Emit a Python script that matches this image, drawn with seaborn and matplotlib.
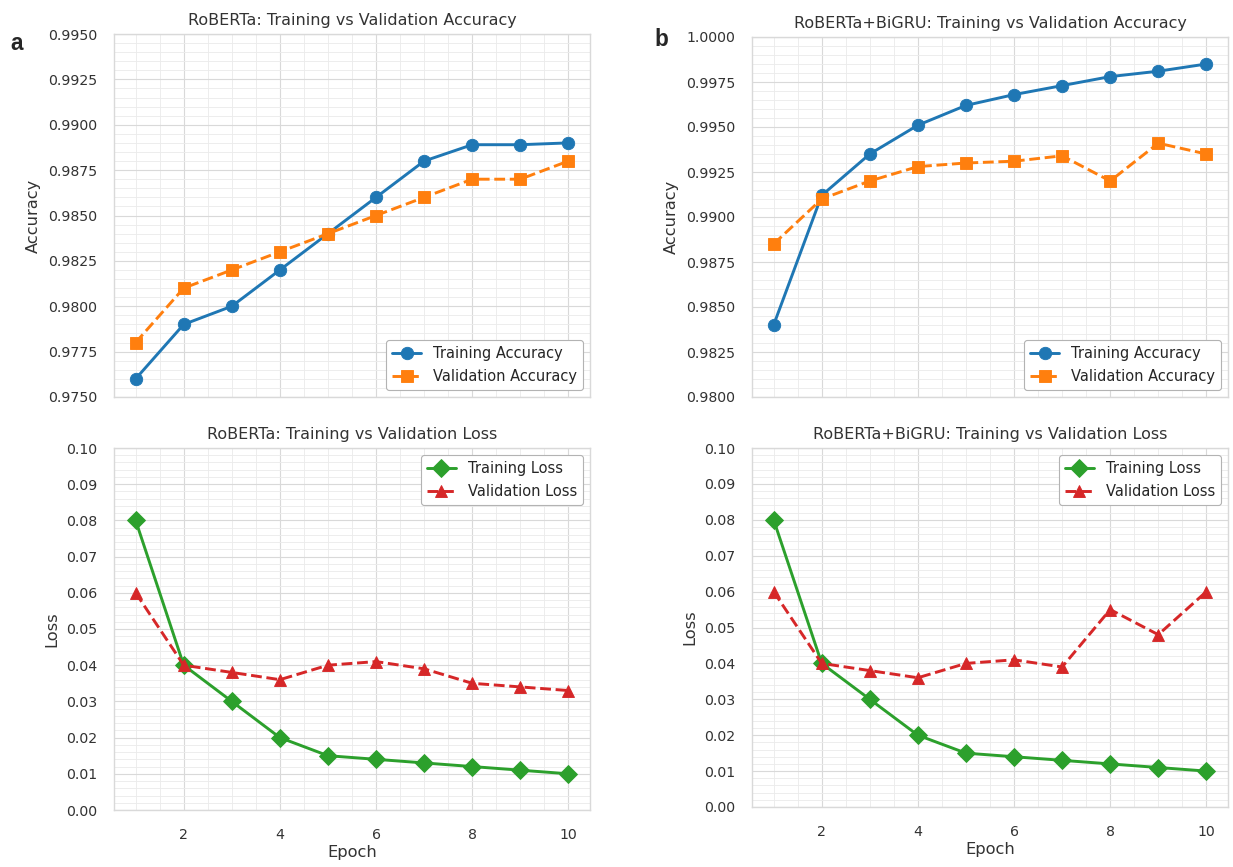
import numpy as np
import pandas as pd
import matplotlib
matplotlib.use("Agg")
import matplotlib.pyplot as plt
import seaborn as sns
from matplotlib.ticker import AutoMinorLocator, FormatStrFormatter

epochs = [1, 2, 3, 4, 5, 6, 7, 8, 9, 10]

rob_train_acc = [0.9760, 0.9790, 0.9800, 0.9820, 0.9840, 0.9860, 0.9880, 0.9889, 0.9889, 0.9890]
rob_val_acc = [0.9780, 0.9810, 0.9820, 0.9830, 0.9840, 0.9850, 0.9860, 0.9870, 0.9870, 0.9880]
rob_train_loss = [0.080, 0.040, 0.030, 0.020, 0.015, 0.014, 0.013, 0.012, 0.011, 0.010]
rob_val_loss = [0.060, 0.040, 0.038, 0.036, 0.040, 0.041, 0.039, 0.035, 0.034, 0.033]

gru_train_acc = [0.9840, 0.9912, 0.9935, 0.9951, 0.9962, 0.9968, 0.9973, 0.9978, 0.9981, 0.9985]
gru_val_acc = [0.9885, 0.9910, 0.9920, 0.9928, 0.9930, 0.9931, 0.9934, 0.9920, 0.9941, 0.9935]
gru_train_loss = [0.080, 0.040, 0.030, 0.020, 0.015, 0.014, 0.013, 0.012, 0.011, 0.010]
gru_val_loss = [0.060, 0.040, 0.038, 0.036, 0.040, 0.041, 0.039, 0.055, 0.048, 0.060]

sns.set_theme(style="whitegrid")
plt.rcParams['font.family'] = ['DejaVu Sans']

DPI = 81
fig = plt.figure(figsize=(1233 / DPI, 867 / DPI), dpi=DPI)

W, H = 1233, 867
def rect(x0, y0, x1, y1):
    return [x0 / W, 1 - y1 / H, (x1 - x0) / W, (y1 - y0) / H]

ax_la = fig.add_axes(rect(114, 34, 590, 397))
ax_ll = fig.add_axes(rect(114, 448, 590, 810))
ax_ra = fig.add_axes(rect(752, 37, 1228, 397))
ax_rl = fig.add_axes(rect(752, 448, 1228, 807))

blue, orange, green, red = "#1f77b4", "#ff7f0e", "#2ca02c", "#d62728"
LW = 2.6
TITLE_FS, LABEL_FS, TICK_FS, LEG_FS = 14.2, 14.4, 12.5, 13.0

def draw(ax, y, color, marker, ls, label, ms):
    sns.lineplot(x=epochs, y=y, ax=ax, color=color, marker=marker, linestyle=ls,
                 linewidth=LW, markersize=ms, markeredgecolor=color,
                 markeredgewidth=0.8, label=label)

def style(ax, ylim, title, ylabel, bottom, legend_loc):
    ax.set_xlim(0.55, 10.45)
    ax.set_ylim(*ylim)
    ax.set_xticks([2, 4, 6, 8, 10])
    ax.xaxis.set_minor_locator(AutoMinorLocator())
    ax.yaxis.set_minor_locator(AutoMinorLocator())
    ax.grid(which="major", color=".85", linewidth=1.0)
    ax.grid(which="minor", color=".92", linewidth=0.8)
    ax.tick_params(which="minor", length=0)
    ax.tick_params(which="major", length=6, pad=9)
    ax.tick_params(axis="x", which="major", pad=10)
    ax.set_title(title, fontsize=TITLE_FS, color=".2", pad=8)
    ax.set_ylabel(ylabel, fontsize=LABEL_FS, color=".2", labelpad=6)
    ax.tick_params(labelsize=TICK_FS, colors=".2")
    if bottom:
        ax.set_xlabel("Epoch", fontsize=LABEL_FS, color=".2", labelpad=3)
    else:
        ax.set_xlabel("")
        ax.tick_params(axis="x", labelbottom=False)
    ax.legend(loc=legend_loc, fontsize=LEG_FS, frameon=True, edgecolor=".7",
              fancybox=True, framealpha=1.0, labelspacing=0.55)
    for s in ax.spines.values():
        s.set_edgecolor(".85")

draw(ax_la, rob_train_acc, blue, "o", "-", "Training Accuracy", 11)
draw(ax_la, rob_val_acc, orange, "s", "--", "Validation Accuracy", 11)
style(ax_la, (0.975, 0.995), "RoBERTa: Training vs Validation Accuracy", "Accuracy", False, "lower right")
ax_la.yaxis.set_major_formatter(FormatStrFormatter("%.4f"))

draw(ax_ll, rob_train_loss, green, "D", "-", "Training Loss", 11)
draw(ax_ll, rob_val_loss, red, "^", "--", "Validation Loss", 11)
style(ax_ll, (0.0, 0.1), "RoBERTa: Training vs Validation Loss", "Loss", True, "upper right")
ax_ll.set_yticks(np.arange(0, 0.101, 0.01))
ax_ll.yaxis.set_major_formatter(FormatStrFormatter("%.2f"))

draw(ax_ra, gru_train_acc, blue, "o", "-", "Training Accuracy", 11)
draw(ax_ra, gru_val_acc, orange, "s", "--", "Validation Accuracy", 11)
style(ax_ra, (0.98, 1.0), "RoBERTa+BiGRU: Training vs Validation Accuracy", "Accuracy", False, "lower right")
ax_ra.yaxis.set_major_formatter(FormatStrFormatter("%.4f"))

draw(ax_rl, gru_train_loss, green, "D", "-", "Training Loss", 11)
draw(ax_rl, gru_val_loss, red, "^", "--", "Validation Loss", 11)
style(ax_rl, (0.0, 0.1), "RoBERTa+BiGRU: Training vs Validation Loss", "Loss", True, "upper right")
ax_rl.set_yticks(np.arange(0, 0.101, 0.01))
ax_rl.yaxis.set_major_formatter(FormatStrFormatter("%.2f"))

for a in (ax_ll, ax_rl):
    a.yaxis.set_minor_locator(AutoMinorLocator(5))
    a.tick_params(which="minor", length=0)

fig.text(10 / W, 1 - 44 / H, "a", fontsize=20, fontweight="bold",
         family="Liberation Sans", va="center", ha="left")
fig.text(654 / W, 1 - 39 / H, "b", fontsize=20, fontweight="bold",
         family="Liberation Sans", va="center", ha="left")

fig.savefig("out.png", dpi=DPI)
